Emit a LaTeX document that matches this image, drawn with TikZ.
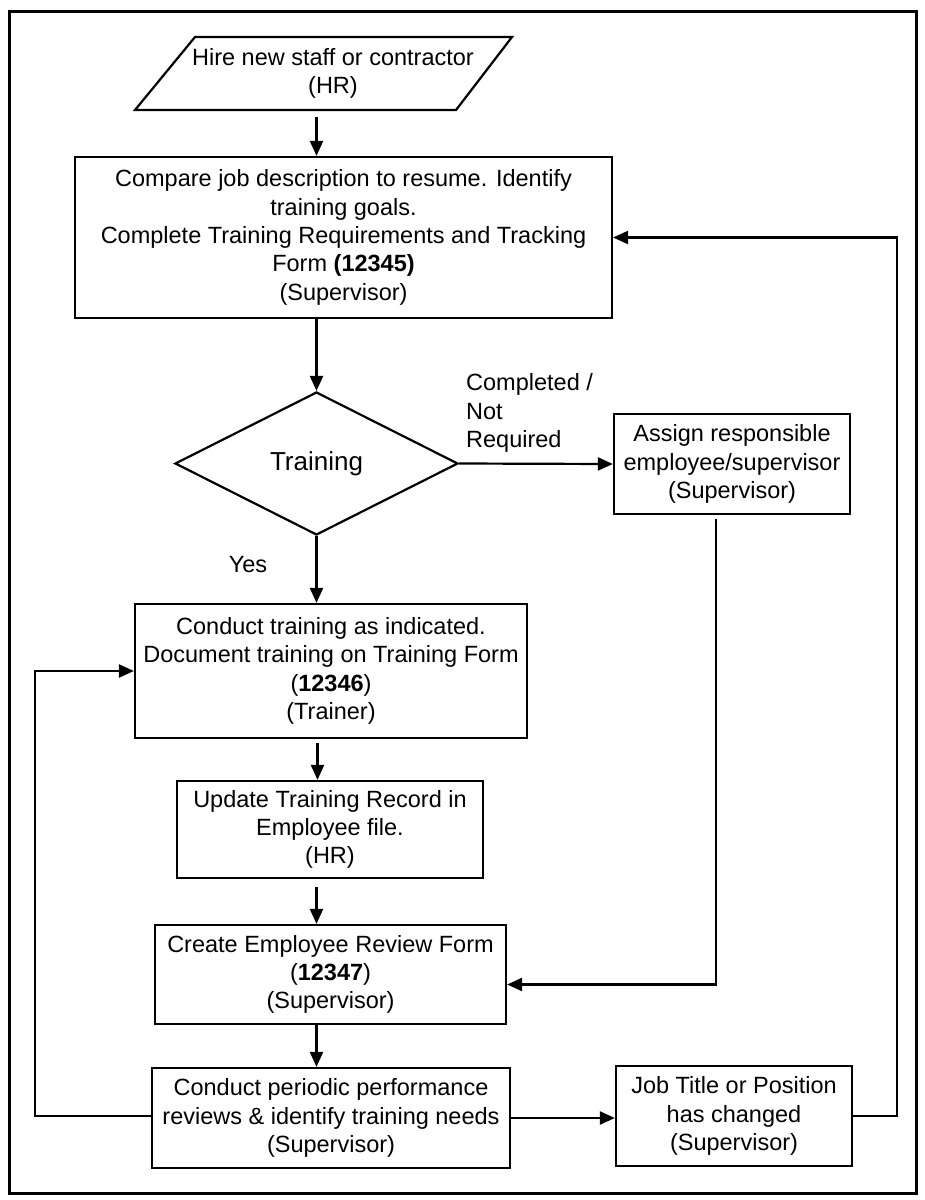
\documentclass[tikz,border=0pt]{standalone}
\usepackage{fontspec}
\setmainfont{Liberation Sans}
\usetikzlibrary{shapes.geometric,arrows.meta,calc}
\begin{document}
\begin{tikzpicture}[x=1pt,y=-1pt,
 txt/.style={inner sep=0pt,align=center,font=\fontsize{23.5}{28.3}\selectfont},
 box/.style={txt,draw,line width=2.2pt},
 lbl/.style={inner sep=0pt,align=left,font=\fontsize{23.5}{28.3}\selectfont},
 arr/.style={line width=2.2pt,-{Triangle[length=15pt,width=13pt]}}]
\useasboundingbox (0,0) rectangle (925,1200);
\draw[line width=3pt] (9,11) rectangle (916,1193);
% start parallelogram
\draw[line width=2.2pt] (195,37) -- (512,37) -- (456,110) -- (135,110) -- cycle;
\node[txt,minimum height=73pt] (hire) at (333,73.5) {Hire new staff or contractor\\(HR)};
% boxes
\node[box,minimum width=537pt,minimum height=161pt] (compare) at (343.5,237.5)
 {Compare job description to resume. Identify\\training goals.\\Complete Training Requirements and Tracking\\Form \textbf{(12345)}\\(Supervisor)};
\node[draw,diamond,line width=2.2pt,minimum width=283pt,minimum height=143pt,inner sep=0pt,
 font=\fontsize{26}{30}\selectfont] (train) at (316.5,463.5) {Training};
\node[box,minimum width=236pt,minimum height=100pt] (assign) at (732,464)
 {Assign responsible\\employee/supervisor\\(Supervisor)};
\node[box,minimum width=392pt,minimum height=134pt] (conduct) at (331,671)
 {Conduct training as indicated.\\Document training on Training Form\\(\textbf{12346})\\(Trainer)};
\node[box,minimum width=306pt,minimum height=97pt] (update) at (330,829.5)
 {Update Training Record in\\Employee file.\\(HR)};
\node[box,minimum width=351pt,minimum height=99pt] (create) at (330.5,974.5)
 {Create Employee Review Form\\(\textbf{12347})\\(Supervisor)};
\node[box,minimum width=358pt,minimum height=100pt] (periodic) at (331,1118)
 {Conduct periodic performance\\reviews \& identify training needs\\(Supervisor)};
\node[box,minimum width=236pt,minimum height=100pt] (job) at (734,1116)
 {Job Title or Position\\has changed\\(Supervisor)};
% labels
\node[lbl,anchor=west] (cnr) at (466,413) {Completed /\\Not\\Required};
\node[lbl] (yes) at (248,565) {Yes};
% connectors
\draw[arr] ($(train.north |- hire.south)+(0,7)$) -- (train.north |- compare.north);
\draw[arr] (train.north |- compare.south) -- (train.north);
\draw[arr] (train.east) -- (assign.west);
\draw[arr] (train.south) -- (train.south |- conduct.north);
\draw[arr] ($(train.south |- conduct.south)+(1,4)$) -- ($(train.south |- update.north)+(1,0)$);
\draw[arr] ($(train.south |- update.south)+(0,8)$) -- (train.south |- create.north);
\draw[arr] (train.south |- create.south) -- (train.south |- periodic.north);
\draw[arr] (periodic.east) -- (job.west |- periodic.east);
\coordinate (lft) at (35,1116);
\draw[arr] ($(periodic.west)+(0,-2)$) -- (lft) |- (conduct.west);
\coordinate (rgt) at (897,1116);
\draw[arr] (job.east) -- (rgt) |- (compare.east);
\draw[arr] ($(assign.south)+(-16,4)$) |- ($(create.east)+(0,10)$);
\end{tikzpicture}
\end{document}
